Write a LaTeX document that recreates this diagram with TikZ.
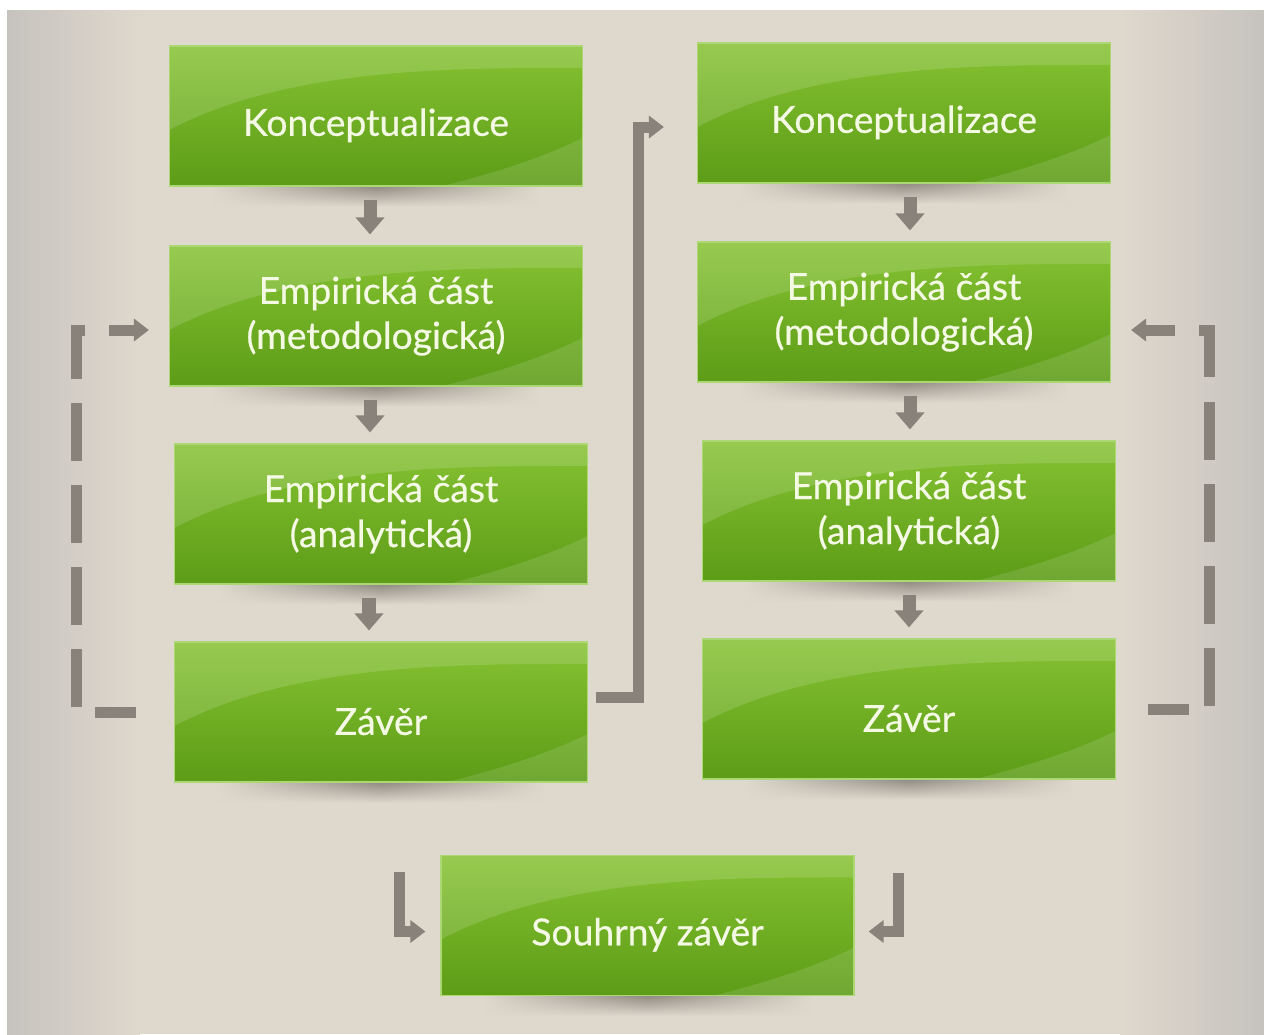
\documentclass[tikz,border=0pt]{standalone}
\usepackage{fontspec}
\setmainfont{Lato}
\newfontfamily\boxfont{Lato}[FakeBold=0.6]
\usetikzlibrary{arrows.meta,fadings,backgrounds}

\definecolor{bg}{HTML}{DFD8CD}
\definecolor{bgedge}{HTML}{C6C3BE}
\definecolor{shadowgrey}{HTML}{938C83}
\definecolor{arrowgrey}{HTML}{88827A}
\definecolor{greentop}{HTML}{86C232}
\definecolor{greenbot}{HTML}{5C9C17}
\definecolor{greenrim}{HTML}{ABD874}
\definecolor{boxtext}{HTML}{F4F9E4}

\tikzfading[name=fade sides, left color=transparent!100, right color=transparent!100,
  middle color=transparent!0]

\tikzset{
  box/.style={rectangle, minimum width=10.325cm, minimum height=3.5cm, inner sep=0pt,
    top color=greentop, bottom color=greenbot, draw=greenrim, line width=0.8pt,
    text=boxtext, font=\boxfont\fontsize{26.5}{32}\selectfont, align=center,
    execute at begin node={\rule{0pt}{1.15cm}},
    path picture={
      \fill[white, fill opacity=0.14] (path picture bounding box.north west)
        -- ([yshift=-2.1cm]path picture bounding box.north west)
        .. controls +(3cm,1.6cm) and +(-3cm,0cm) .. ([yshift=-0.55cm]path picture bounding box.north east)
        -- (path picture bounding box.north east) -- cycle;
      \fill[white, fill opacity=0.12] (path picture bounding box.south east)
        -- ([yshift=1.2cm]path picture bounding box.south east)
        .. controls +(-1cm,-0.5cm) and +(1.2cm,0.3cm) .. ([xshift=-3.5cm]path picture bounding box.south east)
        -- cycle;
    }},
  flow/.style={arrowgrey, line width=0.325cm, -{Triangle[width=0.7cm,length=0.425cm]},
    shorten <=0.325cm, shorten >=0.275cm},
  link/.style={arrowgrey, line width=0.275cm, -{Triangle[width=0.55cm,length=0.375cm]}},
  loopback/.style={link, dash pattern=on 1.45cm off 0.6cm, dash phase=0.44cm}
}

\begin{document}
\begin{tikzpicture}[x=0.025cm, y=-0.025cm]
  \useasboundingbox (0,0) rectangle (1264,1034);

  % First pass
  \node[box] (k1) at (376,116) {Konceptualizace};
  \node[box] (m1) at (376,316) {Empirická část\\(metodologická)};
  \node[box] (a1) at (381,514) {Empirická část\\(analytická)};
  \node[box] (z1) at (381,712) {Závěr};

  % Second pass
  \node[box] (k2) at (904,113) {Konceptualizace};
  \node[box] (m2) at (904,312) {Empirická část\\(metodologická)};
  \node[box] (a2) at (909,511) {Empirická část\\(analytická)};
  \node[box] (z2) at (909,709) {Závěr};

  % Summary
  \node[box] (sz) at (647.5,925.5) {Souhrný závěr};

  % Background and shadows
  \begin{scope}[on background layer]
    \fill[white] (0,0) rectangle (1264,1034);
    \fill[bg] (7,10) rectangle (1264,1034);
    \shade[left color=bgedge, right color=bg] (7,10) rectangle (140,1034);
    \shade[left color=bg, right color=bgedge] (1120,10) rectangle (1264,1034);
    \foreach \b in {k1,m1,a1,z1,k2,m2,a2,z2,sz}
      \shade[top color=shadowgrey, bottom color=bg, path fading=fade sides]
        ([xshift=1.1cm]\b.south west) rectangle ([xshift=-1.1cm,yshift=-0.5cm]\b.south east);
  \end{scope}

  % Steps
  \draw[flow] ([xshift=-0.15cm]k1.south) -- ([xshift=-0.15cm]k1.south |- m1.north);
  \draw[flow] ([xshift=-0.15cm]m1.south) -- ([xshift=-0.15cm]m1.south |- a1.north);
  \draw[flow] ([xshift=-0.3cm]a1.south) -- ([xshift=-0.3cm]a1.south |- z1.north);
  \draw[flow] ([xshift=0.15cm]k2.south) -- ([xshift=0.15cm]k2.south |- m2.north);
  \draw[flow] ([xshift=0.15cm]m2.south) -- ([xshift=0.15cm]m2.south |- a2.north);
  \draw[flow] (a2.south) -- (a2.south |- z2.north);

  % Loops back
  \draw[loopback, shorten <=0.95cm, shorten >=0.5cm]
    (z1.west) -- ++(-97.5,0) |- ([yshift=-0.35cm]m1.west);
  \draw[loopback, shorten <=0.8cm, shorten >=0.5cm]
    (z2.east) -- ++(93,0) |- ([yshift=-0.45cm]m2.east);

  % On to the second pass
  \draw[link, shorten <=0.2cm, shorten >=0.825cm]
    ([yshift=0.375cm]z1.east) -- ++(50,0) |- ([yshift=-0.35cm]k2.west);

  % Into the summary
  \coordinate (ls) at (399,872);
  \coordinate (rs) at (898,873);
  \draw[link, shorten >=0.375cm] (ls) |- ([yshift=-0.15cm]sz.west);
  \draw[link, shorten >=0.35cm] (rs) |- ([yshift=-0.15cm]sz.east);
\end{tikzpicture}
\end{document}
